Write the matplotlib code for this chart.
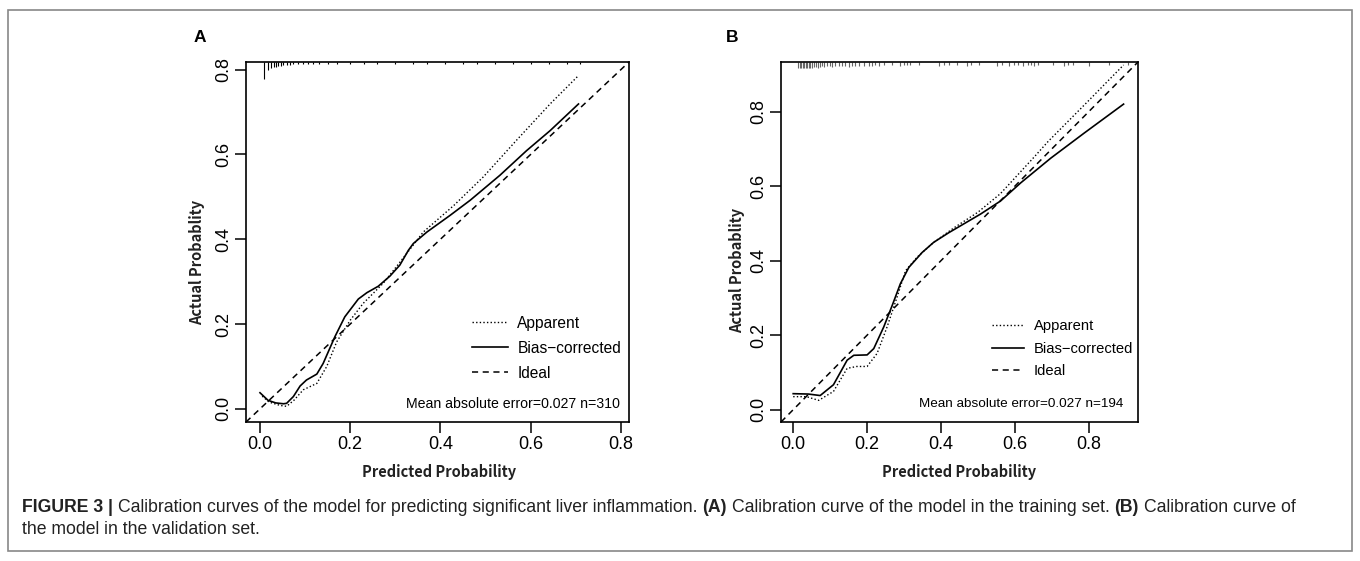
import matplotlib
matplotlib.use('Agg')
import matplotlib.pyplot as plt
from matplotlib import font_manager
from matplotlib.patches import Rectangle
from matplotlib.lines import Line2D

# ---- data ----
# panel A: training set
a_bias_x = [0.0, 0.018, 0.035, 0.052, 0.059, 0.074, 0.089, 0.103, 0.126, 0.140, 0.166, 0.188, 0.218, 0.237,
            0.262, 0.288, 0.310, 0.329, 0.340, 0.370, 0.421, 0.466, 0.532, 0.591, 0.643, 0.706]
a_bias_y = [0.038, 0.020, 0.014, 0.012, 0.013, 0.029, 0.054, 0.068, 0.082, 0.107, 0.170, 0.217, 0.259, 0.274,
            0.289, 0.313, 0.339, 0.374, 0.390, 0.417, 0.456, 0.492, 0.551, 0.609, 0.656, 0.719]
a_app_x = [0.005, 0.020, 0.045, 0.059, 0.075, 0.096, 0.126, 0.148, 0.170, 0.200, 0.229, 0.273, 0.303, 0.362,
           0.430, 0.495, 0.570, 0.643, 0.706]
a_app_y = [0.030, 0.016, 0.008, 0.006, 0.020, 0.045, 0.060, 0.100, 0.158, 0.209, 0.249, 0.296, 0.336, 0.417,
           0.480, 0.547, 0.635, 0.719, 0.786]
a_rug_x = [0.009, 0.018, 0.024, 0.030, 0.035, 0.041, 0.047, 0.052, 0.059, 0.067, 0.074, 0.085, 0.096, 0.107,
           0.118, 0.13, 0.15, 0.17, 0.20, 0.23, 0.26, 0.30, 0.34, 0.37, 0.41, 0.45, 0.48, 0.52, 0.56, 0.60,
           0.64, 0.68, 0.71]
a_rug_h = [0.040, 0.019, 0.014, 0.012, 0.012, 0.009, 0.009, 0.007, 0.007, 0.007, 0.005, 0.005, 0.005, 0.005,
           0.005, 0.004, 0.004, 0.004, 0.004, 0.004, 0.004, 0.004, 0.004, 0.004, 0.004, 0.004, 0.004, 0.004,
           0.004, 0.004, 0.004, 0.004, 0.004]
a_lim = (-0.031, 0.818)
a_mae = 'Mean absolute error=0.027 n=310'

# panel B: validation set
b_bias_x = [0.0, 0.041, 0.073, 0.109, 0.146, 0.164, 0.200, 0.218, 0.245, 0.268, 0.290, 0.313, 0.349, 0.380,
            0.421, 0.507, 0.561, 0.616, 0.697, 0.787, 0.894]
b_bias_y = [0.043, 0.042, 0.038, 0.067, 0.133, 0.146, 0.147, 0.164, 0.222, 0.280, 0.338, 0.382, 0.422, 0.449,
            0.475, 0.525, 0.560, 0.609, 0.675, 0.742, 0.820]
b_app_x = [0.0, 0.036, 0.069, 0.109, 0.146, 0.172, 0.200, 0.227, 0.254, 0.281, 0.304, 0.335, 0.380, 0.435,
           0.500, 0.561, 0.652, 0.690, 0.800, 0.894]
b_app_y = [0.035, 0.035, 0.025, 0.049, 0.111, 0.116, 0.116, 0.151, 0.222, 0.302, 0.373, 0.409, 0.449, 0.488,
           0.530, 0.580, 0.678, 0.720, 0.830, 0.925]
b_rug_x = [0.014, 0.019, 0.022, 0.027, 0.030, 0.035, 0.038, 0.043, 0.046, 0.051, 0.057, 0.062, 0.068, 0.073,
           0.079, 0.084, 0.091, 0.099, 0.105, 0.114, 0.123, 0.132, 0.141, 0.150, 0.159, 0.168, 0.177, 0.191,
           0.204, 0.213, 0.222, 0.231, 0.245, 0.268, 0.290, 0.299, 0.308, 0.317, 0.340, 0.394, 0.408, 0.421,
           0.444, 0.471, 0.480, 0.503, 0.552, 0.566, 0.584, 0.597, 0.607, 0.621, 0.635, 0.643, 0.651, 0.662,
           0.702, 0.732, 0.743, 0.757, 0.800, 0.854, 0.905]
b_rug_h = [0.016, 0.016, 0.016, 0.016, 0.016, 0.016, 0.016, 0.016, 0.016, 0.016, 0.014, 0.014, 0.016, 0.014,
           0.012, 0.014, 0.012, 0.010, 0.014, 0.010, 0.012, 0.010, 0.012, 0.014, 0.010, 0.012, 0.010, 0.012,
           0.010, 0.012, 0.008, 0.010, 0.008, 0.008, 0.010, 0.008, 0.008, 0.008, 0.008, 0.010, 0.008, 0.008,
           0.008, 0.010, 0.008, 0.008, 0.010, 0.008, 0.010, 0.008, 0.008, 0.010, 0.008, 0.008, 0.010, 0.008,
           0.008, 0.010, 0.008, 0.008, 0.010, 0.008, 0.008]
b_lim = (-0.033, 0.933)
b_mae = 'Mean absolute error=0.027 n=194'

ticks = [0.0, 0.2, 0.4, 0.6, 0.8]
legend_labels = ['Apparent', 'Bias\u2212corrected', 'Ideal']

caption_1 = [('FIGURE 3 |', 'bold'),
             ('Calibration curves of the model for predicting significant liver inflammation.', 'normal'),
             ('(A)', 'bold'),
             ('Calibration curve of the model in the training set.', 'normal'),
             ('(B)', 'bold'),
             ('Calibration curve of', 'normal')]
caption_2 = 'the model in the validation set.'

W, H = 1360, 561


def pick_font(names):
    for n in names:
        try:
            font_manager.findfont(n, fallback_to_default=False)
            return n
        except Exception:
            pass
    return 'DejaVu Sans'


main_font = pick_font(['Liberation Sans', 'Arial'])
label_font = pick_font(['Noto Sans CJK SC', 'Liberation Sans'])
cap_font = pick_font(['Liberation Sans Narrow', 'Liberation Sans'])
plt.rcParams['font.family'] = [main_font, 'DejaVu Sans']

fig = plt.figure(figsize=(W / 100, H / 100), dpi=100)

DOT = (0, (1, 1.6))
DASH = (0, (4, 3))


def px_axes(l, t, r, b):
    return fig.add_axes([l / W, 1 - b / H, (r - l) / W, (b - t) / H])


def panel(ax, bias_x, bias_y, app_x, app_y, rug_x, rug_h, lim, mae, rug_col,
          fs_leg, fs_mae, leg_xy, hlen, lspace, mae_pad):
    ax.set_xlim(lim)
    ax.set_ylim(lim)
    ax.plot(app_x, app_y, color='black', lw=1.0, linestyle=DOT)
    ax.plot(bias_x, bias_y, color='black', lw=1.2)
    ax.axline((0, 0), slope=1, color='black', lw=1.1, linestyle=DASH)
    top = lim[1]
    ax.vlines(rug_x, [top - h for h in rug_h], top, color=rug_col, lw=0.8)
    for s in ax.spines.values():
        s.set_linewidth(1.2)
    ax.set_xticks(ticks)
    ax.set_yticks(ticks)
    ax.set_xticklabels(['%.1f' % t for t in ticks], fontsize=13)
    ax.set_yticklabels(['%.1f' % t for t in ticks], fontsize=13, rotation=90, va='center')
    ax.tick_params(length=8, width=1.1, pad=2)
    handles = [Line2D([], [], color='black', lw=1.0, linestyle=DOT),
               Line2D([], [], color='black', lw=1.2),
               Line2D([], [], color='black', lw=1.1, linestyle=DASH)]
    ax.legend(handles, legend_labels, loc='center left', bbox_to_anchor=leg_xy, frameon=False,
              fontsize=fs_leg, handlelength=hlen, handletextpad=0.62, labelspacing=lspace,
              borderaxespad=0, borderpad=0)
    ax.text(1 - mae_pad, 0.05, mae, transform=ax.transAxes, ha='right', va='center', fontsize=fs_mae)


axA = px_axes(246, 62, 629, 422)
panel(axA, a_bias_x, a_bias_y, a_app_x, a_app_y, a_rug_x, a_rug_h, a_lim, a_mae, 'black',
      11.2, 10.2, (0.59, 0.205), 2.3, 0.65, 0.024)
axB = px_axes(781, 62, 1138, 422)
panel(axB, b_bias_x, b_bias_y, b_app_x, b_app_y, b_rug_x, b_rug_h, b_lim, b_mae, '#666666',
      10.6, 9.7, (0.591, 0.203), 2.2, 0.58, 0.04)

lab_kw = dict(family=[label_font, 'DejaVu Sans'], fontsize=10.5, fontweight='bold', color='#222222')
fig.text(439 / W, 1 - 472 / H, 'Predicted Probability', ha='center', va='center', **lab_kw)
fig.text(959 / W, 1 - 472 / H, 'Predicted Probability', ha='center', va='center', **lab_kw)
fig.text(197 / W, 1 - 262 / H, 'Actual Probablity', ha='center', va='center', rotation=90, **lab_kw)
fig.text(737 / W, 1 - 270 / H, 'Actual Probablity', ha='center', va='center', rotation=90, **lab_kw)

fig.text(200 / W, 1 - 37 / H, 'A', ha='center', va='center', fontsize=12.5, fontweight='bold')
fig.text(732 / W, 1 - 37 / H, 'B', ha='center', va='center', fontsize=12.5, fontweight='bold')

# outer frame
fig.patches.append(Rectangle((8 / W, 1 - 551 / H), (1352 - 8) / W, (551 - 10) / H, transform=fig.transFigure,
                             fill=False, edgecolor='#888888', lw=1.2))

# caption with inline bold pieces, sized to fit the original line width
renderer = fig.canvas.get_renderer()
x0, x1 = 22, 1310


def measure(s, weight, fs):
    t = fig.text(0, 0, s, fontsize=fs, fontweight=weight, family=[cap_font, 'DejaVu Sans'])
    w = t.get_window_extent(renderer).width
    t.remove()
    return w


def advance(s, weight, fs):
    # width of the piece plus one following space
    return measure(s + ' |', weight, fs) - measure('|', weight, fs)


def line_width(fs):
    return sum(advance(s, w, fs) for s, w in caption_1[:-1]) + measure(caption_1[-1][0], 'normal', fs)


fs = 10.5
fs = min(fs * (x1 - x0) / line_width(fs), 13)
x = x0
y1 = 1 - 507 / H
for s, w in caption_1:
    fig.text(x / W, y1, s, fontsize=fs, fontweight=w, family=[cap_font, 'DejaVu Sans'],
             va='center', color='#222222')
    x += advance(s, w, fs)
fig.text(x0 / W, 1 - 530 / H, caption_2, fontsize=fs, family=[cap_font, 'DejaVu Sans'],
         va='center', color='#222222')

fig.savefig('out.png', dpi=100)
